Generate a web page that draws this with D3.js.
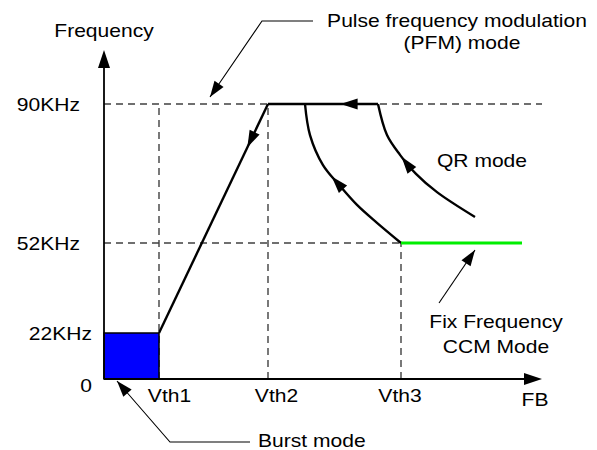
<!DOCTYPE html>
<html>
<head>
<meta charset="utf-8">
<script src="https://cdn.jsdelivr.net/npm/d3@7"></script>
<style>
  body { margin: 0; background: #fff; }
  svg text { font-family: "Liberation Sans", Arial, sans-serif; font-size: 18px; fill: #000; }
</style>
</head>
<body>
<div id="chart"></div>
<script>
// tick values / labels (FB axis in arbitrary volts, frequency in kHz)
const fbTicks = [0.55, 1.64, 2.97];
const fbLabels = ['Vth1', 'Vth2', 'Vth3'];
const freqTicks = [0, 22, 52, 90];
const freqLabels = ['0', '22KHz', '52KHz', '90KHz'];

const fbMax = 4.38;
const freqMax = 104.8;

// burst region and main PFM path
const burst = { fb: 0.55, khz: 22 };
const rampFb = [0.55, 1.64];
const rampKhz = [22, 90];
const topFb = [1.64, 2.74];
const topKhz = [90, 90];

// two curved trajectories
const innerFb = [2.01, 2.06, 2.19, 2.35, 2.53, 2.73, 2.97];
const innerKhz = [90, 81.5, 73.3, 67.9, 62.4, 57.5, 52];
const outerFb = [2.74, 2.83, 2.96, 3.12, 3.33, 3.71];
const outerKhz = [90, 81.5, 76.1, 70.9, 65.9, 59.1];

// fixed frequency CCM segment
const ccmFb = [2.97, 4.18];
const ccmKhz = [52, 52];

const W = 597, H = 450;
const sx = 1.17; // text in the original is stretched horizontally

const svg = d3.select('#chart').append('svg')
  .attr('width', W).attr('height', H);

const x = d3.scaleLinear().domain([0, fbMax]).range([104, 542]);
const y = d3.scaleLinear().domain([0, 22, 52, 90, freqMax]).range([379, 333, 243, 104, 50]);

function head(g, tip, ang, len, wid) {
  const c = Math.cos(ang), s = Math.sin(ang);
  const bx = tip[0] - len * c, by = tip[1] - len * s;
  const pts = [tip, [bx - wid / 2 * s, by + wid / 2 * c], [bx + wid / 2 * s, by - wid / 2 * c]];
  g.append('polygon').attr('points', pts.map(p => p.join(',')).join(' ')).attr('fill', '#000');
}

function label(x0, y0, str, anchor) {
  svg.append('text')
    .attr('transform', `translate(${x0},${y0}) scale(${sx},1)`)
    .attr('text-anchor', anchor || 'middle')
    .text(str);
}

// arrow head placed on a path at fraction f, pointing backwards along it when rev
function headOnPath(node, f, rev, len, wid) {
  const L = node.getTotalLength();
  const p = node.getPointAtLength(L * f);
  const q = node.getPointAtLength(L * f + (rev ? 4 : -4));
  const ang = Math.atan2(p.y - q.y, p.x - q.x);
  head(svg, [p.x, p.y], ang, len, wid);
}

const dash = '7,5';
const gridG = svg.append('g').attr('stroke', '#404040').attr('stroke-width', 1.4)
  .attr('stroke-dasharray', dash).attr('fill', 'none');

// horizontal guides
gridG.append('line').attr('x1', x(0)).attr('x2', x(fbMax)).attr('y1', y(90)).attr('y2', y(90));
gridG.append('line').attr('x1', x(0)).attr('x2', x(fbTicks[2])).attr('y1', y(52)).attr('y2', y(52));
// vertical guides
gridG.append('line').attr('x1', x(fbTicks[0])).attr('x2', x(fbTicks[0])).attr('y1', y(0)).attr('y2', y(90));
gridG.append('line').attr('x1', x(fbTicks[1])).attr('x2', x(fbTicks[1])).attr('y1', y(0)).attr('y2', y(90));
gridG.append('line').attr('x1', x(fbTicks[2])).attr('x2', x(fbTicks[2])).attr('y1', y(0)).attr('y2', y(52));

// burst mode block
svg.append('rect')
  .attr('x', x(0)).attr('y', y(burst.khz))
  .attr('width', x(burst.fb) - x(0)).attr('height', y(0) - y(burst.khz))
  .attr('fill', '#0000ff').attr('stroke', '#000').attr('stroke-width', 1.5);

const line = d3.line().x(d => x(d[0])).y(d => y(d[1]));
const curve = d3.line().x(d => x(d[0])).y(d => y(d[1])).curve(d3.curveCatmullRom.alpha(0.5));

const solid = { stroke: '#000', 'stroke-width': 2.4, fill: 'none' };
function draw(gen, xs, ys, style) {
  const p = svg.append('path').attr('d', gen(d3.zip(xs, ys)));
  Object.entries(style).forEach(([k, v]) => p.attr(k, v));
  return p.node();
}

const rampNode = draw(line, rampFb, rampKhz, solid);
const topNode = draw(line, topFb, topKhz, solid);
const innerNode = draw(curve, innerFb, innerKhz, solid);
const outerNode = draw(curve, outerFb, outerKhz, solid);
draw(line, ccmFb, ccmKhz, { stroke: '#00ee00', 'stroke-width': 3, fill: 'none' });

headOnPath(rampNode, 0.81, true, 17, 11);
headOnPath(topNode, 0.66, true, 17, 11);
headOnPath(innerNode, 0.45, true, 17, 11);
headOnPath(outerNode, 0.38, true, 17, 11);

// axes
const axG = svg.append('g').attr('stroke', '#000').attr('stroke-width', 1.8);
axG.append('line').attr('x1', x(0)).attr('x2', x(0)).attr('y1', y(0)).attr('y2', y(freqMax) + 14);
axG.append('line').attr('x1', x(0)).attr('x2', x(fbMax) - 14).attr('y1', y(0)).attr('y2', y(0));
head(svg, [x(0), y(freqMax)], -Math.PI / 2, 18, 12);
head(svg, [x(fbMax), y(0)], 0, 18, 12);

const yAxisG = svg.append('g')
  .attr('transform', 'translate(92,0)')
  .call(d3.axisLeft(y).tickValues(freqTicks).tickFormat((d, i) => freqLabels[i]).tickSize(0).tickPadding(0));
yAxisG.select('.domain').remove();
yAxisG.selectAll('text')
  .attr('font-size', null).attr('font-family', null)
  .attr('transform', `scale(${sx},1)`)
  .attr('x', d => d >= 52 ? -12 / sx : 0)
  .attr('dy', d => d === 0 ? '0.68em' : '0.36em');

const nudge = [10, 8, -1.5];
const xAxisG = svg.append('g')
  .attr('transform', `translate(0,${y(0)})`)
  .call(d3.axisBottom(x).tickValues(fbTicks).tickFormat((d, i) => fbLabels[i]).tickSize(0).tickPadding(10));
xAxisG.select('.domain').remove();
xAxisG.selectAll('.tick text')
  .attr('font-size', null).attr('font-family', null)
  .attr('transform', (d, i) => `translate(${nudge[i]},0) scale(${sx},1)`);

svg.selectAll('.tick text').style('font-size', '18px').style('fill', '#000');

// titles and annotations
label(104, 37, 'Frequency');
label(535, 406, 'FB');
label(457, 27, 'Pulse frequency modulation');
label(462, 49, '(PFM) mode');
label(482, 167, 'QR mode');
label(496, 328, 'Fix Frequency');
label(496, 353, 'CCM Mode');
label(258, 447, 'Burst mode', 'start');

const thin = svg.append('g').attr('stroke', '#000').attr('stroke-width', 1.1).attr('fill', 'none');
function pointer(pts, len, wid) {
  thin.append('path').attr('d', d3.line()(pts));
  const a = pts[pts.length - 2], b = pts[pts.length - 1];
  head(svg, b, Math.atan2(b[1] - a[1], b[0] - a[0]), len, wid);
}
pointer([[313, 21], [262, 21], [210, 97]], 16, 11);
pointer([[250, 442], [170, 442], [117, 381]], 16, 11);
pointer([[439, 303], [475, 250]], 16, 11);
</script>
</body>
</html>
